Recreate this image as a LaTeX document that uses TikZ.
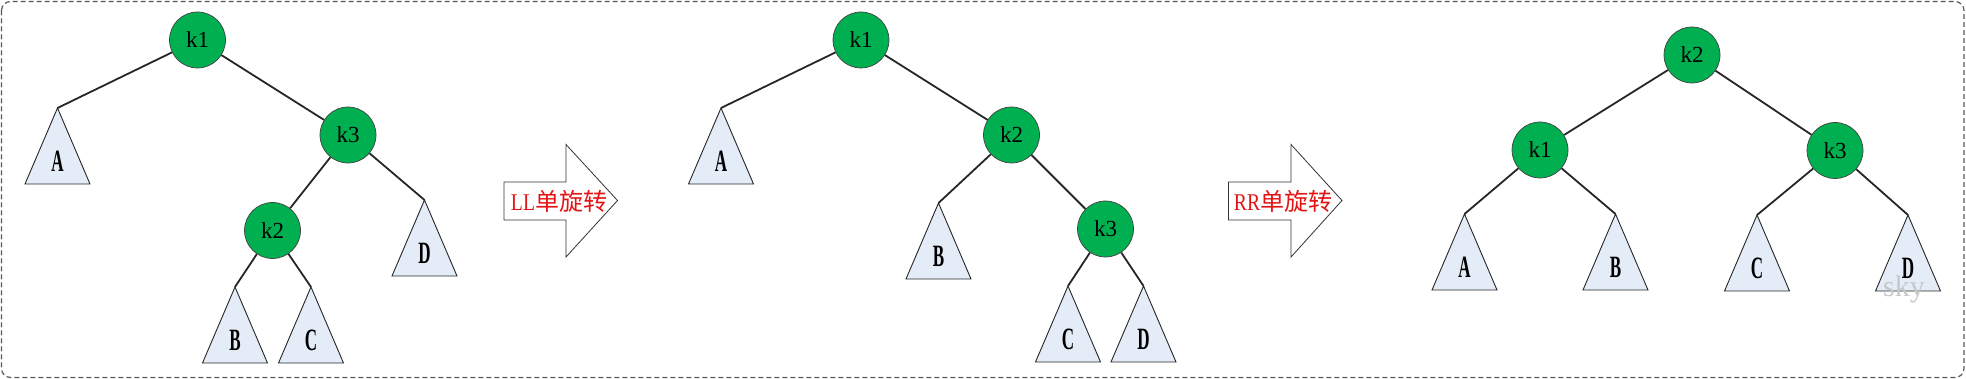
\documentclass[tikz,border=0pt]{standalone}
\usepackage{fontspec}
\setmainfont{Liberation Serif}
\newfontfamily\cjk{Noto Sans CJK SC}
\definecolor{kgreen}{RGB}{0,176,80}
\definecolor{tfill}{RGB}{228,236,247}
\definecolor{lred}{RGB}{228,20,20}
\newcommand\subtree[4]{%
  \coordinate (#1) at (#2,#3);
  \draw[tri] (#1) -- ++(32.5,76) -- ++(-65,0) -- cycle;
  \node[tlabel] (#1l) at ([yshift=-53pt]#1) {\scalebox{0.55}[1]{#4}};
}
\begin{document}
\begin{tikzpicture}[x=1pt,y=-1pt,
  knode/.style={circle,fill=kgreen,draw=black!75,line width=0.7pt,minimum size=56pt,inner sep=0pt,font=\fontsize{23}{23}\selectfont},
  edge/.style={line width=1.8pt,draw=black!85},
  tri/.style={fill=tfill,draw=black!85,line width=0.9pt},
  tlabel/.style={font=\fontsize{31}{31}\selectfont\bfseries,inner sep=0pt},
  bigarrow/.style={fill=white,draw=black!80,line width=0.8pt},
  rlabel/.style={text=lred,font=\fontsize{24}{24}\selectfont,inner sep=0pt}]
\useasboundingbox (0,0) rectangle (1966,379);
\draw[dash pattern=on 5pt off 3pt,draw=black!65,line width=1.2pt,rounded corners=9pt] (1.5,1.5) rectangle (1964,377.5);

% ---- tree 1 ----
\node[knode] (a1) at (197.5,40) {k1};
\node[knode] (a3) at (348,135) {k3};
\node[knode] (a2) at (272.5,230.5) {k2};
\subtree{aA}{57.5}{108}{A}
\subtree{aD}{424.5}{200}{D}
\subtree{aB}{235}{287}{B}
\subtree{aC}{311}{287}{C}
\draw[edge] (a1) -- (aA);
\draw[edge] (a1) -- (a3);
\draw[edge] (a3) -- (a2);
\draw[edge] (a3) -- (aD);
\draw[edge] (a2) -- (aB);
\draw[edge] (a2) -- (aC);

% ---- arrow 1 ----
\draw[bigarrow] (504,182) -- (566,182) -- (566,144.5) -- (617.5,200.5) -- (566,257) -- (566,220) -- (504,220) -- cycle;
\node[rlabel] (l1) at (559,201) {\scalebox{0.82}[1]{LL}{\cjk 单旋转}};

% ---- tree 2 ----
\node[knode] (b1) at (861,40) {k1};
\node[knode] (b2) at (1011.5,135) {k2};
\node[knode] (b3) at (1105.5,229) {k3};
\subtree{bA}{721}{108}{A}
\subtree{bB}{938.5}{203}{B}
\subtree{bC}{1068}{286}{C}
\subtree{bD}{1143.5}{286}{D}
\draw[edge] (b1) -- (bA);
\draw[edge] (b1) -- (b2);
\draw[edge] (b2) -- (bB);
\draw[edge] (b2) -- (b3);
\draw[edge] (b3) -- (bC);
\draw[edge] (b3) -- (bD);

% ---- arrow 2 ----
\draw[bigarrow] (1228.5,182) -- (1291,182) -- (1291,144.5) -- (1342,200.5) -- (1291,257) -- (1291,220) -- (1228.5,220) -- cycle;
\node[rlabel] (l2) at (1283,201) {\scalebox{0.82}[1]{RR}{\cjk 单旋转}};

% ---- tree 3 ----
\node[knode] (c2) at (1692,55) {k2};
\node[knode] (c1) at (1540,150) {k1};
\node[knode] (c3) at (1835,150.5) {k3};
\subtree{cA}{1464.5}{214}{A}
\subtree{cB}{1615.5}{214}{B}
\subtree{cC}{1757}{215}{C}
\subtree{cD}{1908}{215}{D}
\draw[edge] (c2) -- (c1);
\draw[edge] (c2) -- (c3);
\draw[edge] (c1) -- (cA);
\draw[edge] (c1) -- (cB);
\draw[edge] (c3) -- (cC);
\draw[edge] (c3) -- (cD);

\node[text=black!22,font=\fontsize{30}{30}\selectfont,inner sep=0pt] (wm) at (1904,289) {sky};
\end{tikzpicture}
\end{document}
